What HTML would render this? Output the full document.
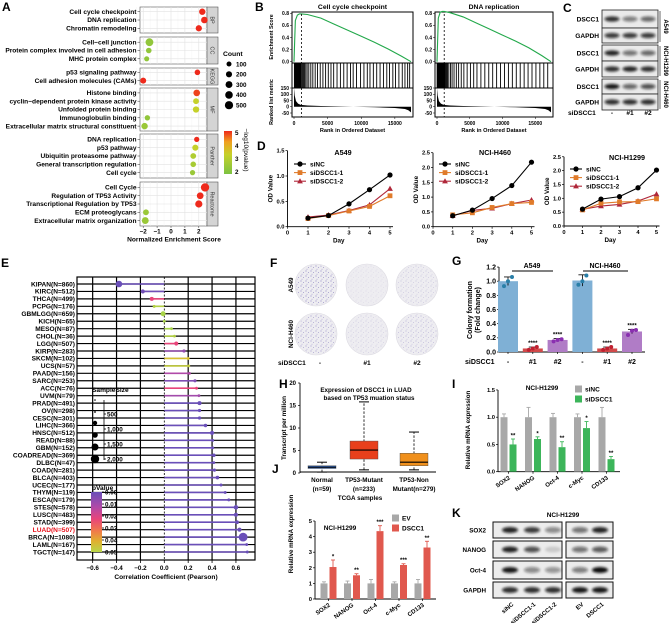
<!DOCTYPE html>
<html><head><meta charset="utf-8">
<style>
body{margin:0;background:#fff}
svg{display:block;font-family:"Liberation Sans",Arial,sans-serif;font-weight:bold}
</style></head><body>
<svg id="fig" width="669" height="623" viewBox="0 0 669 623">
<defs>
<linearGradient id="lpGrad" x1="0" y1="1" x2="0" y2="0">
<stop offset="0" stop-color="#7cc242"/><stop offset="0.45" stop-color="#c5d12a"/><stop offset="0.75" stop-color="#f0a020"/><stop offset="1" stop-color="#ee2a1c"/></linearGradient>
<linearGradient id="pvGrad" x1="0" y1="0" x2="0" y2="1">
<stop offset="0" stop-color="#6a4fb8"/><stop offset="0.25" stop-color="#b04aa8"/><stop offset="0.45" stop-color="#e8457a"/><stop offset="0.65" stop-color="#f07a4a"/><stop offset="0.82" stop-color="#e0b030"/><stop offset="1" stop-color="#b8d648"/></linearGradient>
<filter id="blur" x="-30%" y="-60%" width="160%" height="220%"><feGaussianBlur stdDeviation="1.4"/></filter>
<pattern id="dots" width="5" height="5" patternUnits="userSpaceOnUse">
<circle cx="1" cy="1" r="0.6" fill="#5a4aa8"/><circle cx="3.5" cy="2.5" r="0.5" fill="#5a4aa8"/><circle cx="2" cy="4.2" r="0.45" fill="#5a4aa8"/></pattern>
</defs>
<text x="2" y="11" font-size="12">A</text>
<text x="255" y="11" font-size="12">B</text>
<text x="563" y="12" font-size="12">C</text>
<text x="257" y="150" font-size="12">D</text>
<text x="1" y="267" font-size="12">E</text>
<text x="270" y="267" font-size="12">F</text>
<text x="452" y="265" font-size="12">G</text>
<text x="279" y="388" font-size="12">H</text>
<text x="452" y="388" font-size="12">I</text>
<text x="272" y="473" font-size="12">J</text>
<text x="452" y="517" font-size="12">K</text>
</svg>
<script>
// ---------- DATA ----------
const aTerms=['Cell cycle checkpoint','DNA replication','Chromatin remodeling','Cell−cell junction','Protein complex involved in cell adhesion','MHC protein complex','p53 signaling pathway','Cell adhesion molecules (CAMs)','Histone binding','cyclin−dependent protein kinase activity','Unfolded protein binding','Immunoglobulin binding','Extracellular matrix structural constituent','DNA replication','p53 pathway','Ubiquitin proteasome pathway','General transcription regulation','Cell cycle','Cell Cycle','Regulation of TP53 Activity','Transcriptional Regulation by TP53','ECM proteoglycans','Extracellular matrix organization'];
const aFacetNames=['BP','CC','KEGG','MF','Panther','Reactome'];
const aFacetSizes=[3,3,2,5,5,5];
const aNES=[2.25,2.4,2.0,-1.55,-1.6,-1.75,1.9,-2.0,1.85,1.8,1.8,-1.7,-1.9,1.85,1.75,1.6,1.6,1.55,2.45,2.1,2.0,-1.8,-1.85];
const aCount=[230,260,220,430,150,110,150,190,270,170,230,130,240,120,200,170,150,120,520,280,340,170,290];
const aLogP=[5,5,5,1.8,1.8,1.8,5,5,4.8,3,3,1.8,2,5,3,2.5,2.3,2,5,5,5,2,2];
const aXTicks=[-2,-1,0,1,2];
const aCountLegend=[100,200,300,400,500];

const esRanks=[0,200,500,800,1100,2000,4000,6000,8000,10000,12000,14000,16000,17400];
const esCellCycle=[0,0.68,0.77,0.79,0.79,0.78,0.72,0.62,0.52,0.42,0.32,0.21,0.09,0];
const esDNARep=[0,0.72,0.82,0.83,0.83,0.81,0.74,0.64,0.54,0.44,0.34,0.23,0.1,0];
const hitsCellCycle=[60,150,230,300,380,450,520,600,680,760,850,930,1000,1100,1250,1400,1550,1750,1950,2200,2500,2800,3150,3500,3900,4300,4700,5100,5500,5900,6400,6900,7400,7900,8400,8800,9300,9900,10400,10900,11300,11800,12300,12800,13300,13800,14200,14700,15100,15600,16100,16500,16900,17200];
const hitsDNARep=[20,60,100,140,180,220,260,300,340,380,420,470,520,570,620,680,740,800,870,940,1010,1100,1200,1320,1450,1600,1800,2050,2300,2600,2950,3300,3700,4100,4600,5100,5600,6100,6700,7300,7900,8500,9100,9700,10300,10900,11500,12100,12700,13300,13900,14500,15100,15700,16300,16900];
const metricRanks=[0,100,300,600,1000,2000,4000,8000,12000,15000,16500,17000,17400];
const metricVals=[150,90,45,25,15,10,6,1,-4,-10,-18,-28,-45];

const days=[1,2,3,4,5];
const dA549=[[0.17,0.22,0.45,0.73,1.02],[0.16,0.22,0.31,0.40,0.61],[0.19,0.23,0.32,0.43,0.75]];
const dH460=[[0.37,0.56,0.95,1.39,2.18],[0.40,0.47,0.65,0.78,0.82],[0.37,0.55,0.62,0.78,0.90]];
const dH1299=[[0.61,0.97,1.06,1.38,2.02],[0.58,0.82,0.87,0.88,0.98],[0.60,0.72,0.78,0.90,1.15]];
const seriesNames=['siNC','siDSCC1-1','siDSCC1-2'];

const eCancers=['KIPAN(N=860)','KIRC(N=512)','THCA(N=499)','PCPG(N=176)','GBMLGG(N=659)','KICH(N=65)','MESO(N=87)','CHOL(N=36)','LGG(N=507)','KIRP(N=283)','SKCM(N=102)','UCS(N=57)','PAAD(N=156)','SARC(N=253)','ACC(N=76)','UVM(N=79)','PRAD(N=491)','OV(N=298)','CESC(N=301)','LIHC(N=366)','HNSC(N=512)','READ(N=88)','GBM(N=152)','COADREAD(N=369)','DLBC(N=47)','COAD(N=281)','BLCA(N=403)','UCEC(N=177)','THYM(N=119)','ESCA(N=179)','STES(N=578)','LUSC(N=483)','STAD(N=399)','LUAD(N=507)','BRCA(N=1080)','LAML(N=167)','TGCT(N=147)'];
const eR=[-0.38,-0.18,-0.105,-0.085,-0.01,0.0,0.06,0.085,0.10,0.165,0.20,0.205,0.21,0.257,0.27,0.29,0.295,0.295,0.295,0.345,0.40,0.405,0.405,0.415,0.415,0.42,0.445,0.475,0.51,0.54,0.60,0.60,0.61,0.63,0.66,0.69,0.695];
const eP=[0,0.001,0.02,0.048,0.05,0.05,0.05,0.048,0.02,0.006,0.04,0.045,0.01,0.003,0.02,0.008,0,0,0,0,0,0,0,0,0,0,0,0,0,0,0,0,0,0,0,0,0];
const eXTicks=[-0.6,-0.4,-0.2,0,0.2,0.4,0.6];

const gGroups=['-','#1','#2','-','#1','#2'];
const gMeans=[1.0,0.05,0.17,1.01,0.05,0.29];
const gErr=[0.06,0.02,0.02,0.08,0.02,0.03];
const gReps=[[0.93,1.0,1.06],[0.03,0.05,0.07],[0.15,0.17,0.18],[0.95,1.0,1.08],[0.03,0.05,0.07],[0.24,0.3,0.31]];
const gStars=['','****','****','','****','****'];

const hGroups=['Normal','TP53-Mutant','TP53-Non'];
const hSub=['(n=59)','(n=233)','Mutant(n=279)'];
const hLo=[0.2,0.7,0.7],hQ1=[1.0,3.1,1.6],hMed=[1.3,5.1,2.4],hQ3=[1.6,7.1,4.4],hHi=[2.4,15.8,9.1];

const qGenes=['SOX2','NANOG','Oct-4','c-Myc','CD133'];
const iCtrl=[1,1,1,1,1],iCtrlErr=[0.06,0.18,0.07,0.06,0.18];
const iKD=[0.5,0.6,0.45,0.8,0.23],iKDErr=[0.1,0.04,0.1,0.12,0.05];
const iStars=['**','*','**','*','**'];
const jEV=[1,1,1,1,1],jEVErr=[0.1,0.15,0.25,0.1,0.25];
const jOE=[2.05,1.52,4.35,2.18,3.3],jOEErr=[0.45,0.1,0.35,0.08,0.4];
const jStars=['*','**','***','***','**'];

const cBands=[[0.85,0.5,0.6],[0.8,0.8,0.8],[0.9,0.55,0.6],[0.85,0.9,0.85],[0.95,0.6,0.7],[0.85,0.85,0.85]];
const kBands=[[0.9,0.8,0.45,0.55,0.9],[0.9,0.7,0.15,0.55,0.65],[0.95,0.45,0.4,0.5,1.0],[0.85,0.85,0.85,0.95,0.95]];
const fDensity=[[0.55,0.1,0.22],[0.45,0.18,0.3]];

// ---------- HELPERS ----------
const NS='http://www.w3.org/2000/svg';
const svg=document.getElementById('fig');
function mk(tag,attrs,parent){const e=document.createElementNS(NS,tag);for(const k in attrs)e.setAttribute(k,attrs[k]);(parent||svg).appendChild(e);return e;}
function T(x,y,s,size,anchor,parent,extra){const t=mk('text',Object.assign({x:x,y:y,'font-size':size,'text-anchor':anchor||'start'},extra||{}),parent);t.textContent=s;return t;}
function G(parent){return mk('g',{},parent);}
function lerpColor(a,b,t){const pa=[1,3,5].map(i=>parseInt(a.substr(i,2),16)),pb=[1,3,5].map(i=>parseInt(b.substr(i,2),16));return 'rgb('+pa.map((v,i)=>Math.round(v+(pb[i]-v)*t)).join(',')+')';}
function ramp(stops,v){if(v<=stops[0][0])return stops[0][1];for(let i=1;i<stops.length;i++){if(v<=stops[i][0]){const t=(v-stops[i-1][0])/(stops[i][0]-stops[i-1][0]);return lerpColor(stops[i-1][1],stops[i][1],t);}}return stops[stops.length-1][1];}

// ---------- PANEL A ----------
(function(){
const g=G();

const xA=v=>171+v*13.9;
const rA=c=>1.2+Math.sqrt(c)*0.13;
const colA=v=>ramp([[1.3,'#7cc242'],[3,'#c5d12a'],[4,'#f0a020'],[5,'#ee2a1c']],v);
const tops=[7,37,68,88,134,182],bots=[33,64,85,131,178,226];
let idx=0;
aFacetNames.forEach((fn,f)=>{
 const top=tops[f],bot=bots[f],n=aFacetSizes[f];
 const fr=mk('rect',{x:140,y:top,width:67,height:bot-top,fill:'#fff',stroke:'#555','stroke-width':0.6},g);
 
 
 [-2.5,-1.5,-0.5,0.5,1.5,2.5].forEach(v=>mk('line',{x1:xA(v),x2:xA(v),y1:top,y2:bot,stroke:'#f2f2f2','stroke-width':0.4},g));
 aXTicks.forEach(v=>mk('line',{x1:xA(v),x2:xA(v),y1:top,y2:bot,stroke:'#e2e2e2','stroke-width':0.6},g));
 const st=mk('rect',{x:207,y:top,width:11,height:bot-top,fill:'#d4d4d4',stroke:'#555','stroke-width':0.6},g);
 
 
 T(212.5,(top+bot)/2+2,fn,5.5,'middle',g,{transform:'rotate(90 212.5 '+((top+bot)/2)+')',fill:'#333','font-weight':'normal'});
 const sp=8.3,pad=(bot-top-(n-1)*sp)/2;
 for(let i=0;i<n;i++,idx++){
  const y=top+pad+i*sp;
  mk('line',{x1:140,x2:207,y1:y,y2:y,stroke:'#e2e2e2','stroke-width':0.6},g);
  mk('line',{x1:137.5,x2:140,y1:y,y2:y,stroke:'#333','stroke-width':0.5},g);
  const lb=T(136.5,y+2.2,aTerms[idx],6.6,'end',g);
  
  
  const c=mk('circle',{cx:xA(aNES[idx]),cy:y,r:rA(aCount[idx]),fill:colA(aLogP[idx])},g);
  
  
 }
});
aXTicks.forEach(v=>{mk('line',{x1:xA(v),x2:xA(v),y1:226,y2:228,stroke:'#333','stroke-width':0.5},g);T(xA(v),233.5,v<0?'−'+(-v):String(v),6.3,'middle',g);});
const xt=T(174,241.5,'Normalized Enrichment Score',6.6,'middle',g);


const lg=G(g);

T(223,56,'Count',6.8,'start',lg);
aCountLegend.forEach((c,i)=>{const y=64+i*10.3;mk('circle',{cx:229,cy:y,r:rA(c),fill:'#000'},lg);T(236,y+2.3,String(c),6.3,'start',lg);});
const cb=mk('rect',{x:224,y:131,width:8,height:43,fill:'url(#lpGrad)'},g);


[[5,133],[4,146],[3,159],[2,172]].forEach(a=>T(235,a[1]+2,String(a[0]),6.3,'start',g));
T(244,150,'−log10(pvalue)',6.5,'middle',g,{transform:'rotate(90 244 150)','font-weight':'normal'});
})();

// ---------- PANEL B ----------
function gsea(x0,x1,title,esV,hits,showY,name){
 const g=G();
 
 const xr=r=>x0+2+r*(x1-x0-4)/17400;
 const yE=v=>61.7-v*60.5;
 const yM=v=>106.75-v*0.125;
 T((x0+x1)/2,9,title,6.8,'middle',g);
 mk('rect',{x:x0,y:12,width:x1-x0,height:51,fill:'#fff',stroke:'#000','stroke-width':1},g);
 [0,0.2,0.4,0.6,0.8].forEach(v=>{mk('line',{x1:x0-2,x2:x0,y1:yE(v),y2:yE(v),stroke:'#000','stroke-width':0.5},g);T(x0-3,yE(v)+1.8,v.toFixed(1),5,'end',g);});
 const p=mk('polyline',{points:esRanks.map((r,i)=>xr(r)+','+yE(esV[i])).join(' '),fill:'none',stroke:'#22a84a','stroke-width':1.1},g);
 
 
 mk('line',{x1:xr(1100),x2:xr(1100),y1:14,y2:63,stroke:'#000','stroke-width':0.8,'stroke-dasharray':'2,2'},g);
 mk('rect',{x:x0,y:63,width:x1-x0,height:25,fill:'#fff',stroke:'#000','stroke-width':1},g);
 hits.forEach(r=>{const l=mk('line',{x1:xr(r),x2:xr(r),y1:63,y2:88,stroke:'#000','stroke-width':0.9},g);
  
  });
 mk('rect',{x:x0,y:88,width:x1-x0,height:29,fill:'#fff',stroke:'#000','stroke-width':1},g);
 const ap=mk('path',{d:'M'+xr(0)+','+yM(0)+' '+metricRanks.map((r,i)=>'L'+xr(r)+','+yM(metricVals[i])).join(' ')+' L'+xr(17400)+','+yM(0)+'Z',fill:'#000'},g);
 
 
 mk('line',{x1:xr(1100),x2:xr(1100),y1:88,y2:117,stroke:'#000','stroke-width':0.8,'stroke-dasharray':'2,2'},g);
 [150,100,50,0,-50].forEach(v=>{mk('line',{x1:x0-2,x2:x0,y1:yM(v),y2:yM(v),stroke:'#000','stroke-width':0.5},g);T(x0-3,yM(v)+1.8,String(v),5,'end',g);});
 [0,5000,10000,15000].forEach(v=>{mk('line',{x1:xr(v),x2:xr(v),y1:117,y2:119,stroke:'#000','stroke-width':0.5},g);T(xr(v),125,String(v),5,'middle',g);});
 T((x0+x1)/2,132,'Rank in Ordered Dataset',5.6,'middle',g);
 if(showY){T(273,37,'Enrichment Score',5.3,'middle',g,{transform:'rotate(-90 273 37)'});T(273,102,'Ranked list metric',5.3,'middle',g,{transform:'rotate(-90 273 102)'});}
}
gsea(292,413,'Cell cycle checkpoint',esCellCycle,hitsCellCycle,true,'gsea-cell-cycle-checkpoint');
gsea(435,553,'DNA replication',esDNARep,hitsDNARep,false,'gsea-dna-replication');

// ---------- PANEL C ----------
(function(){
const g=G();

const rows=[[10,18,'DSCC1'],[28,15,'GAPDH'],[45,16,'DSCC1'],[61,16,'GAPDH'],[79,15,'DSCC1'],[94,16,'GAPDH']];
const lanes=[612,630,648];
rows.forEach((r,i)=>{
 mk('rect',{x:602,y:r[0],width:56,height:r[1],fill:'#eaeaea',stroke:'#222','stroke-width':0.8},g);
 T(599,r[0]+r[1]/2+2.4,r[2],6.6,'end',g);
 lanes.forEach((x,j)=>{const b=mk('ellipse',{cx:x,cy:r[0]+r[1]/2,rx:7.5,ry:2.6,fill:'#111','fill-opacity':cBands[i][j],filter:'url(#blur)'},g);
  
  });
});
[['A549',10,43],['NCI-H1299',45,77],['NCI-H460',79,110]].forEach(s=>{mk('line',{x1:660,x2:660,y1:s[1]+1,y2:s[2]-1,stroke:'#000','stroke-width':0.6},g);const cy=(s[1]+s[2])/2;T(664,cy,s[0],6,'middle',g,{transform:'rotate(90 664 '+cy+')'});});
T(568,115,'siDSCC1',6.6,'start',g);
['-','#1','#2'].forEach((s,i)=>T(lanes[i],115,s,6.6,'middle',g));
})();

// ---------- PANEL D ----------
function lineChart(o){
 const g=G();
 
 const xs=d=>o.ax+d*o.dx, ys=v=>o.y0-v*o.k;
 mk('line',{x1:o.ax,x2:o.ax,y1:o.y0,y2:ys(o.ticks[o.ticks.length-1]),stroke:'#000','stroke-width':0.9},g);
 mk('line',{x1:o.ax,x2:xs(5)+3,y1:o.y0,y2:o.y0,stroke:'#000','stroke-width':0.9},g);
 o.ticks.forEach(v=>{mk('line',{x1:o.ax-2,x2:o.ax,y1:ys(v),y2:ys(v),stroke:'#000','stroke-width':0.7},g);T(o.ax-3,ys(v)+2,v.toFixed(1),5.8,'end',g);});
 [0].concat(days).forEach(d=>{mk('line',{x1:xs(d),x2:xs(d),y1:o.y0,y2:o.y0+2,stroke:'#000','stroke-width':0.7},g);T(xs(d),o.y0+8,String(d),5.8,'middle',g);});
 T((o.ax+xs(5))/2,o.y0+16,'Day',6.3,'middle',g);
 T(o.ax-15,(o.y0+ys(o.ticks[o.ticks.length-1]))/2,'OD Value',6.3,'middle',g,{transform:'rotate(-90 '+(o.ax-15)+' '+((o.y0+ys(o.ticks[o.ticks.length-1]))/2)+')'});
 T(o.tx,o.ty,o.title,7.2,'middle',g);
 const cols=['#000','#e07b2a','#b0283a'];
 const marker=(x,y,s,par)=>{
  if(s===0)return mk('circle',{cx:x,cy:y,r:2.6,fill:cols[0]},par);
  if(s===1)return mk('rect',{x:x-2.4,y:y-2.4,width:4.8,height:4.8,fill:cols[1]},par);
  return mk('path',{d:'M'+x+','+(y-3)+' L'+(x+2.9)+','+(y+2.2)+' L'+(x-2.9)+','+(y+2.2)+'Z',fill:cols[2]},par);};
 [2,1,0].forEach(s=>{
  const pl=mk('polyline',{points:days.map((d,i)=>xs(d)+','+ys(o.data[s][i])).join(' '),fill:'none',stroke:cols[s],'stroke-width':1.1},g);
  
  
  days.forEach((d,i)=>{const m=marker(xs(d),ys(o.data[s][i]),s,g);
   
   });
 });
 seriesNames.forEach((n,s)=>{const y=o.ly+s*8.6;mk('line',{x1:o.lx-6,x2:o.lx+6,y1:y,y2:y,stroke:cols[s],'stroke-width':1.1},g);marker(o.lx,y,s,g);T(o.lx+10,y+2.3,n,6.5,'start',g);});
}
lineChart({name:'line-chart-a549',ax:287.5,dx:20.5,y0:226.7,k:50.7,ticks:[0,0.5,1,1.5],data:dA549,title:'A549',tx:343,ty:155,lx:300,ly:164});
lineChart({name:'line-chart-nci-h460',ax:433,dx:19.7,y0:226.7,k:29.6,ticks:[0,0.5,1,1.5,2,2.5],data:dH460,title:'NCI-H460',tx:495,ty:155,lx:445,ly:164});
lineChart({name:'line-chart-nci-h1299',ax:564,dx:18.5,y0:226,k:27.7,ticks:[0,0.5,1,1.5,2,2.5],data:dH1299,title:'NCI-H1299',tx:627,ty:160,lx:576,ly:169});

// ---------- PANEL E ----------
(function(){
const g=G();

const xE=v=>164.3+v*119.4;
const yE=i=>284+i*((552-284)/(eCancers.length-1));
const colE=p=>ramp([[0,'#6a4fb8'],[0.01,'#b04aa8'],[0.02,'#e8457a'],[0.03,'#f07a4a'],[0.04,'#d8c030'],[0.05,'#a8d448']],p);
mk('rect',{x:77,y:277,width:178,height:283,fill:'#fff',stroke:'#000','stroke-width':1.2},g);
eXTicks.forEach(v=>{if(v!==0)mk('line',{x1:xE(v),x2:xE(v),y1:277,y2:560,stroke:'#000','stroke-width':1.2},g);});
eCancers.forEach((c,i)=>mk('line',{x1:77,x2:255,y1:yE(i),y2:yE(i),stroke:'#000','stroke-width':1.2},g));
mk('line',{x1:xE(0),x2:xE(0),y1:277,y2:560,stroke:'#000','stroke-width':0.8,'stroke-dasharray':'2,1.5'},g);
eCancers.forEach((c,i)=>{
 const y=yE(i),col=colE(eP[i]);
 const ln=mk('line',{x1:xE(0),x2:xE(eR[i]),y1:y,y2:y,stroke:col,'stroke-width':1.6},g);
 
 
 const n=parseInt(c.match(/N=(\d+)/)[1]);
 const d=mk('circle',{cx:xE(eR[i]),cy:y,r:1.4+Math.pow(n/1080,2)*3,fill:col},g);
 
 
 const t=T(75,y+2.3,c,6.6,'end',g,c.indexOf('LUAD')===0?{fill:'#e8101a'}:{});
 
 
});
eXTicks.forEach(v=>{mk('line',{x1:xE(v),x2:xE(v),y1:560,y2:563,stroke:'#000','stroke-width':0.8},g);T(xE(v),570,(v<0?'−':'')+Math.abs(v).toFixed(1),6.3,'middle',g);});
T(166,579,'Correlation Coefficient (Pearson)',6.6,'middle',g);
const lg=G(g);

T(92,392,'SampleSize',6.6,'start',lg);
[[400,0.8],[412,0.9],[423,2.2],[435,2.8],[447,3.5],[459,4.2]].forEach(a=>mk('circle',{cx:95,cy:a[0],r:a[1],fill:'#000'},lg));
mk('line',{x1:104,x2:104,y1:400,y2:460,stroke:'#000','stroke-width':0.8},lg);
[['500',414],['1,000',429],['1,500',444],['2,000',459]].forEach(a=>{mk('line',{x1:104,x2:106,y1:a[1],y2:a[1],stroke:'#000','stroke-width':0.8},lg);T(107,a[1]+2.3,a[0],6.3,'start',lg);});
T(92,490,'pValue',6.6,'start',g);
const pb=mk('rect',{x:91,y:492,width:11,height:60,fill:'url(#pvGrad)'},g);


['0.00','0.01','0.02','0.03','0.04','0.05'].forEach((s,i)=>{const y=492+i*12;mk('line',{x1:102,x2:104,y1:y,y2:y,stroke:'#000','stroke-width':0.8},g);T(105,y+2.3,s,6.3,'start',g);});
})();

// ---------- PANEL F ----------
(function(){
const g=G();

const cx=[316,367,417],cy=[285,334];
cy.forEach((y,r)=>cx.forEach((x,c)=>{
 const p=mk('circle',{cx:x,cy:y,r:21,fill:'#eeedf1',stroke:'#dcdae2','stroke-width':0.6},g);
 
 
 mk('circle',{cx:x,cy:y,r:20,fill:'url(#dots)','fill-opacity':fDensity[r][c]},g);
}));
T(293,285,'A549',6.3,'middle',g,{transform:'rotate(-90 293 285)'});
T(293,334,'NCI-H460',6.3,'middle',g,{transform:'rotate(-90 293 334)'});
T(278,365,'siDSCC1',6.6,'start',g);
['-','#1','#2'].forEach((s,i)=>T(i===0?320:cx[i],365,s,6.6,'middle',g));
})();

// ---------- PANEL G ----------
(function(){
const g=G();

const y0=352,k=70.8,ys=v=>y0-v*k,xb=i=>508+i*24.8;
const cols=['#7fb0d5','#d14a4a','#b07cc6','#7fb0d5','#d14a4a','#b07cc6'];
const dcols=['#2a7fa8','#c02030','#8a2fb0','#2a7fa8','#c02030','#8a2fb0'];
mk('line',{x1:499,x2:499,y1:y0,y2:ys(1.2),stroke:'#000','stroke-width':0.9},g);
mk('line',{x1:499,x2:645,y1:y0,y2:y0,stroke:'#000','stroke-width':0.9},g);
[0,0.2,0.4,0.6,0.8,1.0,1.2].forEach(v=>{mk('line',{x1:497,x2:499,y1:ys(v),y2:ys(v),stroke:'#000','stroke-width':0.7},g);T(496,ys(v)+2.4,v.toFixed(1),7,'end',g);});
gMeans.forEach((m,i)=>{
 const b=mk('rect',{x:xb(i)-10,y:ys(m),width:20,height:m*k,fill:cols[i]},g);
 
 
 mk('line',{x1:xb(i),x2:xb(i),y1:ys(m-gErr[i]),y2:ys(m+gErr[i]),stroke:'#000','stroke-width':0.8},g);
 mk('line',{x1:xb(i)-4,x2:xb(i)+4,y1:ys(m+gErr[i]),y2:ys(m+gErr[i]),stroke:'#000','stroke-width':0.8},g);
 gReps[i].forEach((v,j)=>mk('circle',{cx:xb(i)-4+j*4,cy:ys(v),r:2,fill:dcols[i]},g));
 if(gStars[i])T(xb(i),ys(m+gErr[i])-2,gStars[i],6,'middle',g);
 mk('line',{x1:xb(i),x2:xb(i),y1:y0,y2:y0+2,stroke:'#000','stroke-width':0.7},g);
 T(xb(i),364,gGroups[i],7,'middle',g);
});
T(465,364,'siDSCC1',7,'start',g);
mk('line',{x1:512,x2:553,y1:271,y2:271,stroke:'#000','stroke-width':0.9},g);T(532,268,'A549',7,'middle',g);
mk('line',{x1:583,x2:628,y1:271,y2:271,stroke:'#000','stroke-width':0.9},g);T(605,268,'NCI-H460',7,'middle',g);
T(472,310,'Colony formation',7,'middle',g,{transform:'rotate(-90 472 310)'});
T(480,310,'(Fold change)',7,'middle',g,{transform:'rotate(-90 480 310)'});
})();

// ---------- PANEL H ----------
(function(){
const g=G();

const y0=473,k=4.5,ys=v=>y0-v*k,xc=[322,364,414];
const cols=['#3a6fc8','#e8401c','#f0901c'];
mk('line',{x1:300,x2:300,y1:y0,y2:ys(20),stroke:'#000','stroke-width':0.9},g);
mk('line',{x1:300,x2:436,y1:472,y2:472,stroke:'#000','stroke-width':0.9},g);
[0,5,10,15,20].forEach(v=>{mk('line',{x1:298,x2:300,y1:ys(v),y2:ys(v),stroke:'#000','stroke-width':0.7},g);T(296,ys(v)+2.2,String(v),6,'end',g);});
hGroups.forEach((n,i)=>{
 const x=xc[i];
 mk('line',{x1:x,x2:x,y1:ys(hLo[i]),y2:ys(hHi[i]),stroke:'#000','stroke-width':0.8,'stroke-dasharray':'2.5,1.5'},g);
 mk('line',{x1:x-5,x2:x+5,y1:ys(hHi[i]),y2:ys(hHi[i]),stroke:'#000','stroke-width':1},g);
 mk('line',{x1:x-5,x2:x+5,y1:ys(hLo[i]),y2:ys(hLo[i]),stroke:'#000','stroke-width':1},g);
 const b=mk('rect',{x:x-14,y:ys(hQ3[i]),width:28,height:(hQ3[i]-hQ1[i])*k,fill:cols[i],stroke:'#444','stroke-width':0.4},g);
 
 
 mk('line',{x1:x-14,x2:x+14,y1:ys(hMed[i]),y2:ys(hMed[i]),stroke:'#000','stroke-width':1.1},g);
 T(x,482,n,6.3,'middle',g);
 T(x,491,hSub[i],6.3,'middle',g);
});
T(366,392,'Expression of DSCC1 in LUAD',6.3,'middle',g);
T(369,400,'based on TP53 muation status',6.3,'middle',g);
T(360,500,'TCGA samples',6.3,'middle',g);
T(286,428,'Transcript per million',6.3,'middle',g,{transform:'rotate(-90 286 428)'});
})();

// ---------- PANELS I & J ----------
function qpcr(o){
 const g=G();
 
 const ys=v=>o.y0-v*o.k,xg=i=>o.gx+i*o.gs;
 mk('line',{x1:o.ax,x2:o.ax,y1:o.y0,y2:ys(o.ticks[o.ticks.length-1]),stroke:'#000','stroke-width':0.9},g);
 mk('line',{x1:o.ax,x2:o.xend,y1:o.y0,y2:o.y0,stroke:'#000','stroke-width':0.9},g);
 o.ticks.forEach(v=>{mk('line',{x1:o.ax-2,x2:o.ax,y1:ys(v),y2:ys(v),stroke:'#000','stroke-width':0.7},g);T(o.ax-3,ys(v)+2,o.fmt(v),5.8,'end',g);});
 qGenes.forEach((gn,i)=>{
  const x=xg(i);
  [[o.c,o.cE,o.col1,x-4.5,''],[o.t,o.tE,o.col2,x+4.5,o.stars[i]]].forEach(a=>{
   const v=a[0][i],e=a[1][i];
   const b=mk('rect',{x:a[3]-3.5,y:ys(v),width:7,height:v*o.k,fill:a[2]},g);
   
   
   mk('line',{x1:a[3],x2:a[3],y1:ys(v),y2:ys(v+e),stroke:a[2],'stroke-width':0.9},g);
   mk('line',{x1:a[3]-2,x2:a[3]+2,y1:ys(v+e),y2:ys(v+e),stroke:a[2],'stroke-width':0.9},g);
   if(a[4])T(a[3],ys(v+e)-1.5,a[4],6,'middle',g);
  });
  mk('line',{x1:x,x2:x,y1:o.y0,y2:o.y0+2,stroke:'#000','stroke-width':0.7},g);
  T(x+2,o.y0+7,gn,6,'end',g,{transform:'rotate(-35 '+(x+2)+' '+(o.y0+7)+')'});
 });
 T(o.ylx,o.yly,'Relative mRNA expression',6.2,'middle',g,{transform:'rotate(-90 '+o.ylx+' '+o.yly+')'});
 T(o.tx,o.ty,'NCI-H1299',6.5,'middle',g);
 [[o.n1,o.col1],[o.n2,o.col2]].forEach((a,j)=>{mk('rect',{x:o.lx,y:o.ly+j*10-3.5,width:7,height:7,fill:a[1]},g);T(o.lx+10,o.ly+j*10+2.3,a[0],6.5,'start',g);});
}
qpcr({name:'panel-i-qpcr-knockdown',ax:498,y0:471.7,k:54.5,ticks:[0,0.5,1,1.5],fmt:v=>v.toFixed(1),gx:508.5,gs:24.5,xend:620,c:iCtrl,cE:iCtrlErr,t:iKD,tE:iKDErr,stars:iStars,col1:'#a8a8a8',col2:'#3cb55a',n1:'siNC',n2:'siDSCC1',ylx:470,yly:430,tx:542,ty:390,lx:575,ly:389});
qpcr({name:'panel-j-qpcr-overexpression',ax:315,y0:599,k:15.6,ticks:[0,1,2,3,4,5],fmt:v=>String(v),gx:328.5,gs:23.5,xend:436,c:jEV,cE:jEVErr,t:jOE,tE:jOEErr,stars:jStars,col1:'#a8a8a8',col2:'#e0584e',n1:'EV',n2:'DSCC1',ylx:293,yly:534,tx:340,ty:530,lx:392,ly:518});

// ---------- PANEL K ----------
(function(){
const g=G();

T(563,517,'NCI-H1299',6.5,'middle',g);
const rows=[[522,16,'SOX2'],[541,17,'NANOG'],[561,18,'Oct-4'],[582,16,'GAPDH']];
const lanes=[510,532,553,580,600];
rows.forEach((r,i)=>{
 mk('rect',{x:493,y:r[0],width:69,height:r[1],fill:'#ececec',stroke:'#111','stroke-width':1},g);
 mk('rect',{x:566,y:r[0],width:47,height:r[1],fill:'#ececec',stroke:'#111','stroke-width':1},g);
 T(486,r[0]+r[1]/2+2.3,r[2],6.3,'end',g);
 lanes.forEach((x,j)=>{const b=mk('ellipse',{cx:x,cy:r[0]+r[1]/2,rx:8,ry:3,fill:'#111','fill-opacity':kBands[i][j],filter:'url(#blur)'},g);
  
  });
});
['siNC','siDSCC1-1','siDSCC1-2','EV','DSCC1'].forEach((s,j)=>T(lanes[j]+4,605,s,6,'end',g,{transform:'rotate(-40 '+(lanes[j]+4)+' 605)'}));
})();
</script>
</body></html>
